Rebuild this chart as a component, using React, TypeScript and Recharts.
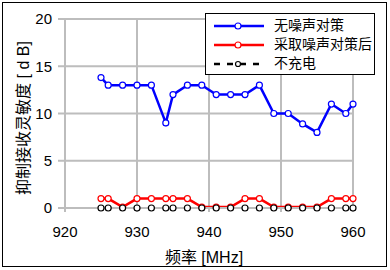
import { LineChart, Line, XAxis, YAxis, CartesianGrid } from 'recharts';

const freqs = [925, 926, 928, 930, 932, 934, 935, 937, 939, 941, 943, 945, 947, 949, 951, 953, 955, 957, 959, 960];
const noMeasure = [13.8, 13, 13, 13, 13, 9, 12, 13, 13, 12, 12, 12, 13, 10, 10, 8.9, 8, 11, 10, 11];
const withMeasure = [1, 1, 0.1, 1, 1, 1, 1, 1, 0.1, 0.1, 0.1, 1, 1, 0.1, 0.1, 0.1, 0.1, 1, 1, 1];
const noCharge = [0, 0, 0, 0, 0, 0, 0, 0, 0, 0, 0, 0, 0, 0, 0, 0, 0, 0, 0, 0];
const xTicks = [920, 930, 940, 950, 960];
const yTicks = [0, 5, 10, 15, 20];
const seriesNames = ['无噪声对策', '采取噪声对策后', '不充电'];

const data = freqs.map((f, i) => ({ f, a: noMeasure[i], b: withMeasure[i], c: noCharge[i] }));

const font = '"Liberation Sans", Arial, "Noto Sans CJK SC", sans-serif';
const grid = '#bdbdbd';

function LegendIcon({ color, dashed }: { color: string; dashed?: boolean }) {
  return (
    <svg width={50} height={10} style={{ display: 'block' }}>
      <line x1={0} y1={5} x2={50} y2={5} stroke={color} strokeWidth={2.5} strokeDasharray={dashed ? '6 7' : undefined} />
      <circle cx={24} cy={5} r={dashed ? 2.5 : 3} fill="#fff" stroke={color} strokeWidth={1.2} />
    </svg>
  );
}

export default function App() {
  const colors = ['#0000ff', '#ff0000', '#000000'];
  return (
    <div style={{ position: 'absolute', left: 0, top: 0, width: 390, height: 270, background: '#fff', fontFamily: font }}>
      <div style={{ position: 'absolute', left: 2, top: 2, width: 383, height: 263, border: '1.5px solid #000' }} />
      <LineChart width={390} height={270} data={data} margin={{ top: 19, right: 37, bottom: 32, left: 0 }}>
        <CartesianGrid stroke={grid} strokeWidth={2} horizontalValues={yTicks} verticalValues={xTicks} />
        <XAxis
          dataKey="f"
          type="number"
          domain={[920, 960]}
          ticks={xTicks}
          height={30}
          stroke={grid}
          strokeWidth={2}
          tickSize={4}
          tickMargin={14}
          tick={{ fill: '#000', fontSize: 15, fontFamily: font }}
        />
        <YAxis
          domain={[0, 20]}
          ticks={yTicks}
          width={65}
          stroke={grid}
          strokeWidth={2}
          tickSize={7}
          tickMargin={6}
          tick={{ fill: '#000', fontSize: 15, fontFamily: font }}
        />
        <Line dataKey="a" stroke={colors[0]} strokeWidth={2.5} isAnimationActive={false}
          dot={{ r: 3, fill: '#fff', stroke: colors[0], strokeWidth: 1.2 }} />
        <Line dataKey="b" stroke={colors[1]} strokeWidth={2.5} isAnimationActive={false}
          dot={{ r: 3, fill: '#fff', stroke: colors[1], strokeWidth: 1.2 }} />
        <Line dataKey="c" stroke={colors[2]} strokeWidth={2} strokeDasharray="7 5" isAnimationActive={false}
          dot={{ r: 3, fill: '#fff', stroke: colors[2], strokeWidth: 1.2, strokeDasharray: '' }} />
      </LineChart>
      <div style={{ position: 'absolute', left: 205, top: 13, width: 168, height: 58, border: '1.5px solid #000', background: '#fff', fontSize: 14, lineHeight: '19px', paddingTop: 2 }}>
        {seriesNames.map((n, i) => (
          <div key={n} style={{ display: 'flex', alignItems: 'center', height: 19 }}>
            <div style={{ marginLeft: 8, marginRight: 10 }}>
              <LegendIcon color={colors[i]} dashed={i === 2} />
            </div>
            <span>{n}</span>
          </div>
        ))}
      </div>
      <div style={{ position: 'absolute', left: 22, top: 118, transform: 'translate(-50%, -50%) rotate(-90deg)', whiteSpace: 'nowrap', fontSize: 16 }}>
        抑制接收灵敏度 [ d B]
      </div>
      <div style={{ position: 'absolute', left: 204, top: 256, transform: 'translate(-50%, -50%)', whiteSpace: 'nowrap', fontSize: 16 }}>
        频率 [MHz]
      </div>
    </div>
  );
}
